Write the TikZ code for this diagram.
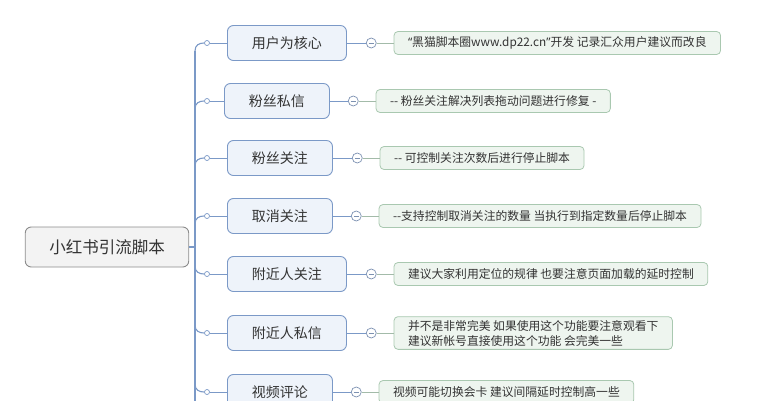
\documentclass[tikz,border=0pt]{standalone}
\usepackage{fontspec}
\setmainfont{Noto Sans CJK SC}
\newfontfamily\quotefont{Noto Sans}
\usepackage{xcolor}
\usetikzlibrary{positioning}
\definecolor{MapBlue}{HTML}{7B99C7}
\definecolor{MapBlueFill}{HTML}{EEF3FA}
\definecolor{MapGray}{HTML}{8C8C8C}
\definecolor{MapGrayFill}{HTML}{F3F3F3}
\definecolor{MapGreen}{HTML}{A9C8B0}
\definecolor{MapGreenFill}{HTML}{EEF5EF}
\definecolor{MapLink}{HTML}{A3BBA9}
\definecolor{MapText}{HTML}{333333}

\begin{document}
\begin{tikzpicture}[x=1pt,y=-1pt,
  rootbox/.style={draw=MapGray,fill=MapGrayFill,rounded corners=6pt,line width=0.9pt,
    inner xsep=24pt,minimum height=40pt,font=\fontsize{16.5}{18}\selectfont,text=MapText},
  topicbox/.style={draw=MapBlue,fill=MapBlueFill,rounded corners=6pt,line width=0.9pt,
    inner xsep=24.5pt,minimum height=35pt,font=\fontsize{14}{16}\selectfont,text=MapText,anchor=west},
  notebox/.style={draw=MapGreen,fill=MapGreenFill,rounded corners=4pt,line width=0.8pt,
    inner xsep=14pt,minimum height=23pt,font=\fontsize{11.8}{15}\selectfont,text=MapText,align=left},
  knob/.style={circle,draw=MapBlue,fill=white,line width=0.7pt,inner sep=0pt,minimum size=5pt},
  fold/.style={circle,draw=MapBlue!70!gray,fill=white,line width=0.7pt,inner sep=0pt,minimum size=10pt,
    path picture={\draw[MapBlue!70!gray,line width=0.7pt]
      ([xshift=-2.6pt]path picture bounding box.center) -- ([xshift=2.6pt]path picture bounding box.center);}},
  trunk/.style={draw=MapBlue,line width=1.1pt},
  tolink/.style={draw=MapBlue,line width=1pt},
  notelink/.style={draw=MapLink,line width=0.9pt}]
  \useasboundingbox (0,0) rectangle (772,400);

  % root and trunk
  \node[rootbox] (root) at (107,247) {小红书引流脚本};
  \coordinate (trunktop) at (195,51);
  \coordinate (trunkbot) at (195,402);
  \coordinate (trunkmid) at (195,247);
  \draw[trunk] (trunktop) -- (trunkbot);
  \draw[trunk] (root.east) -- (trunkmid);

  % topics
  \node[topicbox] (core) at (227,43) {用户为核心};
  \node[topicbox] (fanmsg) at (224,101) {粉丝私信};
  \node[topicbox] (fanfollow) at (227,158) {粉丝关注};
  \node[topicbox] (unfollow) at (227,216) {取消关注};
  \node[topicbox] (nearfollow) at (227,274) {附近人关注};
  \node[topicbox] (nearmsg) at (227,333) {附近人私信};
  \node[topicbox] (video) at (227,392) {视频评论};

  % knobs on the trunk
  \node[knob] (k1) at (207,43) {};
  \node[knob] (k2) at (207,101) {};
  \node[knob] (k3) at (207,158) {};
  \node[knob] (k4) at (207,216) {};
  \node[knob] (k5) at (207,274) {};
  \node[knob] (k6) at (207,333) {};
  \node[knob] (k7) at (207,392) {};
  \coordinate (t1) at (195,51);
  \coordinate (t2) at (195,109);
  \coordinate (t3) at (195,166);
  \coordinate (t4) at (195,224);
  \coordinate (t5) at (195,266);
  \coordinate (t6) at (195,325);
  \coordinate (t7) at (195,384);
  \draw[trunk] (t1) .. controls +(0,-6) and +(-5,0) .. (k1.west);
  \draw[trunk] (t2) .. controls +(0,-6) and +(-5,0) .. (k2.west);
  \draw[trunk] (t3) .. controls +(0,-6) and +(-5,0) .. (k3.west);
  \draw[trunk] (t4) .. controls +(0,-6) and +(-5,0) .. (k4.west);
  \draw[trunk] (t5) .. controls +(0,6) and +(-5,0) .. (k5.west);
  \draw[trunk] (t6) .. controls +(0,6) and +(-5,0) .. (k6.west);
  \draw[trunk] (t7) .. controls +(0,6) and +(-5,0) .. (k7.west);
  \draw[tolink] (k1) -- (core);
  \draw[tolink] (k2) -- (fanmsg);
  \draw[tolink] (k3) -- (fanfollow);
  \draw[tolink] (k4) -- (unfollow);
  \draw[tolink] (k5) -- (nearfollow);
  \draw[tolink] (k6) -- (nearmsg);
  \draw[tolink] (k7) -- (video);

  % fold marks and notes
  \node[fold,right=19pt of core] (corefold) {};
  \node[fold,right=18pt of fanmsg] (fanmsgfold) {};
  \node[fold,right=19pt of fanfollow] (fanfollowfold) {};
  \node[fold,right=18pt of unfollow] (unfollowfold) {};
  \node[fold,right=19pt of nearfollow] (nearfollowfold) {};
  \node[fold,right=19pt of nearmsg] (nearmsgfold) {};
  \node[fold,right=18pt of video] (videofold) {};

  \node[notebox,right=17pt of corefold] (corenote) {{\quotefont“}黑猫脚本圈www.dp22.cn{\quotefont”}开发 记录汇众用户建议而改良};
  \node[notebox,right=17pt of fanmsgfold] (fanmsgnote) {-{}- 粉丝关注解决列表拖动问题进行修复 -};
  \node[notebox,right=17pt of fanfollowfold] (fanfollownote) {-{}- 可控制关注次数后进行停止脚本};
  \node[notebox,right=17pt of unfollowfold] (unfollownote) {-{}-支持控制取消关注的数量 当执行到指定数量后停止脚本};
  \node[notebox,right=17pt of nearfollowfold] (nearfollownote) {建议大家利用定位的规律 也要注意页面加载的延时控制};
  \node[notebox,right=17pt of nearmsgfold] (nearmsgnote) {并不是非常完美 如果使用这个功能要注意观看下\\建议新帐号直接使用这个功能 会完美一些};
  \node[notebox,right=17pt of videofold] (videonote) {视频可能切换会卡 建议间隔延时控制高一些};

  \draw[tolink] (core) -- (corefold);
  \draw[tolink] (fanmsg) -- (fanmsgfold);
  \draw[tolink] (fanfollow) -- (fanfollowfold);
  \draw[tolink] (unfollow) -- (unfollowfold);
  \draw[tolink] (nearfollow) -- (nearfollowfold);
  \draw[tolink] (nearmsg) -- (nearmsgfold);
  \draw[tolink] (video) -- (videofold);
  \draw[notelink] (corefold) -- (corenote);
  \draw[notelink] (fanmsgfold) -- (fanmsgnote);
  \draw[notelink] (fanfollowfold) -- (fanfollownote);
  \draw[notelink] (unfollowfold) -- (unfollownote);
  \draw[notelink] (nearfollowfold) -- (nearfollownote);
  \draw[notelink] (nearmsgfold) -- (nearmsgnote);
  \draw[notelink] (videofold) -- (videonote);
\end{tikzpicture}
\end{document}
